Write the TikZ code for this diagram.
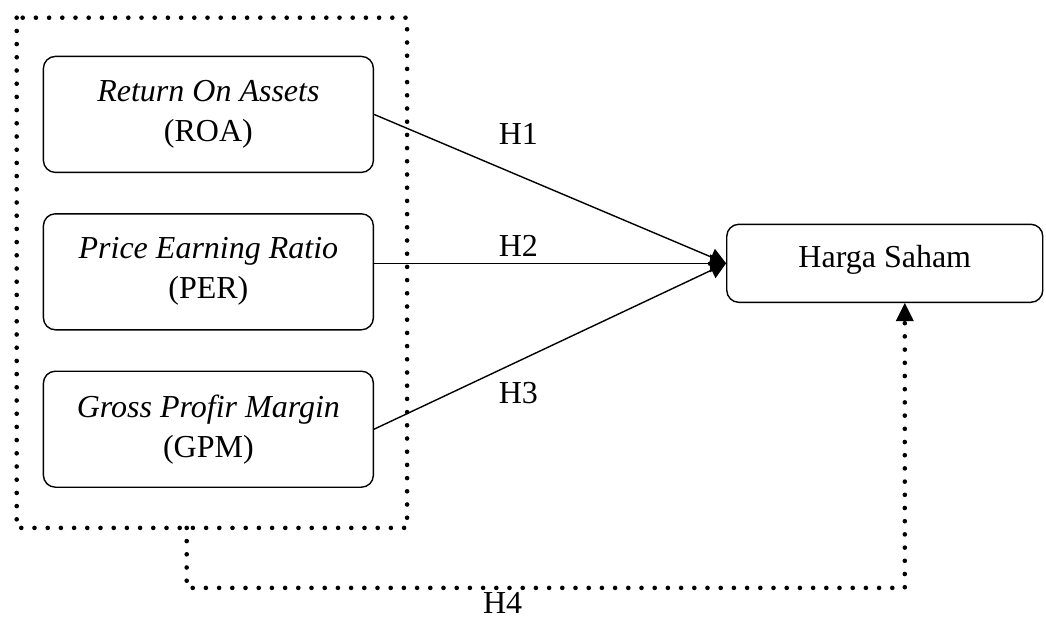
\documentclass[tikz,border=0pt]{standalone}
\usepackage{fontspec}
\setmainfont{Liberation Serif}
\usetikzlibrary{arrows.meta,calc}

\begin{document}
\begin{tikzpicture}[font=\fontsize{16}{20}\selectfont,line width=0.7pt,
  >={Triangle[length=8pt,width=9pt,line width=0pt]},
  dots/.style={line width=2.3pt,line cap=round,dash pattern=on 0pt off 6.6pt}]
\useasboundingbox (0,0) rectangle (523pt,-310.5pt);
\matrix [anchor=north west,inner sep=0pt,column sep=176pt,row sep=20pt,
  varb/.style={draw,anchor=center,rounded corners=6pt,align=center,minimum width=165pt,minimum height=58pt}] at (21pt,-27.5pt) {
 \node(m11)[varb]{\textit{Return On Assets}\\(ROA)}; & \\
 \node(m12)[varb]{\textit{Price Earning Ratio}\\(PER)}; & \node(m22)[draw,anchor=center,yshift=4.25pt,text depth=6.5pt,rounded corners=6pt,minimum width=158pt,minimum height=39pt]{Harga Saham}; \\
 \node(m13)[varb]{\textit{Gross Profir Margin}\\(GPM)}; & \\
};
\coordinate (fa) at ($(m11.north west)+(-13pt,19pt)$);
\coordinate (fb) at ($(m13.south east)+(16.5pt,-20pt)$);
\draw[dots] (fa) rectangle (fb);
\draw[->] (m11.east) -- (m22.west) node[pos=.41,yshift=21pt]{H1};
\draw[->] (m12.east |- m22.west) -- (m22.west) node[pos=.41,yshift=8.75pt]{H2};
\draw[->] (m13.east) -- (m22.west) node[pos=.41,yshift=-16pt]{H3};
\coordinate (f4) at ($(fa |- fb)+(85pt,0)$);
\coordinate (m24) at ($(f4)+(0,-30pt)$);
\draw[dots,-{Triangle[length=9pt,width=9pt,line width=0pt]}] (f4) -- (m24) -| ([xshift=10pt]m22.south) node[pos=.22,yshift=-7.5pt,inner sep=0.5pt]{H4};
\end{tikzpicture}
\end{document}
